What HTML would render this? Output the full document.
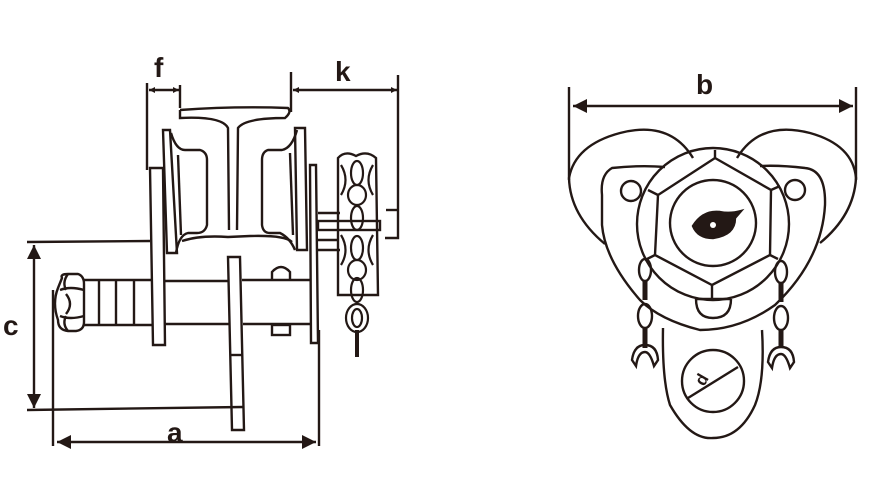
<!DOCTYPE html>
<html><head><style>html,body{margin:0;padding:0;background:#fff}svg{display:block}</style></head>
<body>
<svg width="889" height="501" viewBox="0 0 889 501" xmlns="http://www.w3.org/2000/svg" fill="none" stroke="#231815" stroke-width="2.4">
<defs>
<marker id="ar" viewBox="0 0 10 10" refX="10" refY="5" markerWidth="7" markerHeight="6" orient="auto-start-reverse" markerUnits="userSpaceOnUse"><path d="M0,0 L10,5 L0,10z" fill="#231815" stroke="none"/></marker>
<marker id="ab" viewBox="0 0 10 10" refX="10" refY="5" markerWidth="16" markerHeight="14" orient="auto-start-reverse" markerUnits="userSpaceOnUse"><path d="M0,0 L10,5 L0,10z" fill="#231815" stroke="none"/></marker>
</defs>
<g font-family="Liberation Sans, sans-serif" font-weight="bold" fill="#231815" stroke="none" font-size="28">
<text x="154" y="77">f</text><text x="335" y="81">k</text><text x="3" y="335">c</text><text x="167" y="442">a</text><text x="696" y="94">b</text>
<text x="0" y="0" font-size="17" transform="translate(704,387) rotate(-60)">d</text>
</g>
<line x1="147" y1="83" x2="147" y2="170"/>
<line x1="149" y1="90" x2="179" y2="90" marker-start="url(#ar)" marker-end="url(#ar)"/>
<line x1="180" y1="85" x2="180" y2="108"/>
<line x1="291" y1="72" x2="291" y2="112"/>
<line x1="398" y1="75" x2="398" y2="212"/>
<line x1="293" y1="90" x2="397" y2="90" marker-start="url(#ar)" marker-end="url(#ar)"/>
<polyline points="398,212 398,238 385,238"/>
<polyline points="398,210 386,210"/>
<line x1="27" y1="242" x2="150" y2="241"/>
<line x1="27" y1="410" x2="243" y2="407"/>
<line x1="34" y1="245" x2="34" y2="408" marker-start="url(#ab)" marker-end="url(#ab)"/>
<line x1="53" y1="290" x2="53" y2="446"/>
<line x1="319" y1="330" x2="319" y2="446"/>
<line x1="57" y1="442" x2="316" y2="442" marker-start="url(#ab)" marker-end="url(#ab)"/>
<path d="M180,110 L180,118 Q222,116 228,128 L229,230 M237,230 L238,128 Q245,118 285,118 Q292,112 288,108 Q235,106 180,110"/>
<path d="M182,241 Q200,235 228,237 L250,236 Q285,235 292,242"/>
<path d="M163,130 L170,130 L177,253 L167,253 Z"/>
<path d="M171,133 Q176,150 185,150 L200,150 Q207,152 207,160 L207,225 Q205,233 197,233 L188,233 Q179,235 176,253"/>
<line x1="178" y1="155" x2="181" y2="235"/>
<path d="M295,128 L305,128 L307,250 L297,250 Z"/>
<path d="M297,130 Q292,148 282,150 L268,150 Q262,152 262,160 L262,225 Q263,233 270,233 L280,233 Q290,238 295,250"/>
<line x1="290" y1="153" x2="293" y2="235"/>
<path d="M150,168 L163,168 L165,345 L153,345 Z"/>
<path d="M310,165 L316,165 L318,343 L311,343 Z"/>
<path d="M228,257 L240,257 L244,430 L232,430 Z"/>
<line x1="231" y1="355" x2="242" y2="355"/>
<line x1="83" y1="280" x2="152" y2="280"/><line x1="165" y1="281" x2="228" y2="281"/><line x1="242" y1="280" x2="310" y2="280"/>
<line x1="83" y1="325" x2="152" y2="325"/><line x1="165" y1="324" x2="230" y2="324"/><line x1="243" y1="324" x2="311" y2="324"/>
<line x1="99" y1="281" x2="99" y2="324"/><line x1="116" y1="281" x2="116" y2="324"/><line x1="134" y1="281" x2="134" y2="324"/>
<path d="M272,280 L272,272 Q281,262 290,272 L290,280"/>
<rect x="272" y="325" width="18" height="10"/>
<path d="M62,278 Q60,274 68,274 L78,274 Q84,276 84,284 L84,322 Q84,330 76,331 L68,331 Q58,330 58,320 Q52,303 58,288 Z"/>
<path d="M60,290 Q70,286 84,290 M60,316 Q70,320 84,316 M66,294 Q74,304 66,314 M68,274 Q62,282 66,290 M68,331 Q62,324 66,316"/>
<path d="M318,213 L340,213 M318,240 L338,240 M318,250 L340,250"/>
<rect x="318" y="221" width="62" height="9"/>
<path d="M338,158 Q345,150 356,156 Q367,150 376,158 L378,295 L338,295 Z"/>
<g stroke-width="2.2">
<ellipse cx="357" cy="173" rx="6" ry="12"/><ellipse cx="357" cy="195" rx="9" ry="10"/><ellipse cx="357" cy="218" rx="6" ry="12"/>
<ellipse cx="357" cy="248" rx="6" ry="12"/><ellipse cx="357" cy="270" rx="9" ry="10"/><ellipse cx="357" cy="290" rx="6" ry="12"/>
<ellipse cx="357" cy="318" rx="11" ry="14"/><ellipse cx="357" cy="318" rx="5" ry="9"/>
<line x1="357" y1="330" x2="357" y2="357" stroke-width="4"/>
<path d="M341,165 Q350,180 341,195 M373,165 Q364,180 373,195 M341,235 Q350,250 341,265 M373,235 Q364,250 373,265"/>
</g>
<line x1="569" y1="87" x2="569" y2="180"/>
<line x1="856" y1="87" x2="856" y2="180"/>
<line x1="573" y1="106" x2="853" y2="106" marker-start="url(#ab)" marker-end="url(#ab)"/>
<path d="M693,158 Q670,120 620,133 Q575,145 569,178 Q570,215 605,244"/>
<path d="M737,158 Q760,120 810,133 Q853,145 856,178 Q854,215 820,243"/>
<path d="M665,167 Q640,165 612,168 Q600,175 602,195 L602,225 Q605,260 640,300 Q660,320 700,330 Q740,330 775,305 Q822,260 825,205 Q826,170 805,168 Q780,165 760,166"/>
<circle cx="713" cy="224" r="76"/>
<polygon points="715,158 771,190 770,255 712,285 655,255 658,195"/>
<line x1="715" y1="158" x2="715" y2="150"/><line x1="771" y1="190" x2="780" y2="186"/><line x1="770" y1="255" x2="778" y2="259"/><line x1="712" y1="285" x2="712" y2="300"/><line x1="655" y1="255" x2="645" y2="260"/><line x1="658" y1="195" x2="648" y2="190"/>
<circle cx="713" cy="223" r="43"/>
<path d="M693,226 Q703,210 720,212 Q730,214 741,211 L735,218 Q735,235 713,238 Q698,238 693,226Z" fill="#231815"/>
<circle cx="713" cy="225" r="3" fill="#fff" stroke="none"/>
<circle cx="631" cy="191" r="10"/><circle cx="795" cy="190" r="10"/>
<path d="M696,299 Q696,318 713,318 Q731,318 731,299"/>
<line x1="696" y1="299" x2="731" y2="299"/>
<path d="M663,328 Q662,380 670,405 Q690,440 713,438 Q740,438 755,405 Q765,380 762,330"/>
<circle cx="713" cy="381" r="31"/>
<line x1="688" y1="398" x2="738" y2="367"/>
<g>
<ellipse cx="645" cy="270" rx="6" ry="11"/><line x1="645" y1="280" x2="645" y2="300" stroke-width="5"/><ellipse cx="645" cy="316" rx="7" ry="12"/><line x1="645" y1="328" x2="645" y2="348" stroke-width="5"/>
<path d="M632,360 Q634,345 645,345 Q657,345 658,360 L654,366 Q650,352 645,352 Q638,352 636,366 Z"/>
<ellipse cx="781" cy="272" rx="6" ry="11"/><line x1="781" y1="282" x2="781" y2="302" stroke-width="5"/><ellipse cx="781" cy="318" rx="7" ry="12"/><line x1="781" y1="330" x2="781" y2="348" stroke-width="5"/>
<path d="M768,362 Q770,347 781,347 Q793,347 794,362 L790,368 Q786,354 781,354 Q774,354 772,368 Z"/>
</g>
</svg>
</body></html>
